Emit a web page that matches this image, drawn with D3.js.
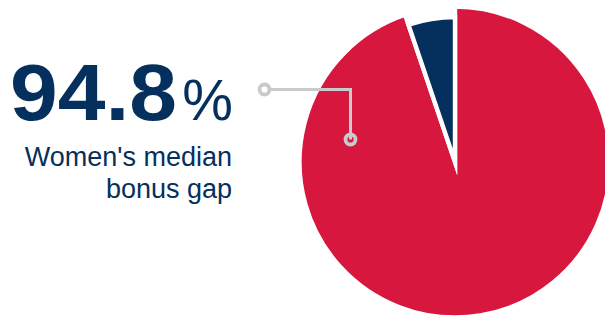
<!DOCTYPE html>
<html>
<head>
<meta charset="utf-8">
<script src="https://cdn.jsdelivr.net/npm/d3@7"></script>
<style>
  html, body { margin: 0; padding: 0; background: #ffffff; }
  svg { display: block; }
</style>
</head>
<body>
<svg id="chart" width="605" height="320"></svg>
<script>
// Bonus gap split: women's median gap vs. remainder of the whole
const categories = ["Women's median bonus gap", "Remainder"];
const values = [94.8, 5.2];
const sliceColors = ["#d7173d", "#05305e"];
const labelLines = ["Women's median", "bonus gap"];
const unit = "%";

const svg = d3.select("#chart");
const navy = "#05305e";
const grey = "#c8cacc";

// Pie
const cx = 455, cy = 162;
const radii = [155.5, 145];

const pie = d3.pie().sort(null).value(d => d.value);
const slices = pie(categories.map((c, i) => ({ name: c, value: values[i], i })));

const arc = d3.arc()
  .innerRadius(0)
  .outerRadius(d => radii[d.data.i]);

svg.append("g")
  .attr("transform", `translate(${cx},${cy})`)
  .selectAll("path")
  .data(slices)
  .join("path")
  .attr("d", arc)
  .attr("fill", d => sliceColors[d.data.i])
  .attr("stroke", "#ffffff")
  .attr("stroke-width", 4.4)
  .attr("stroke-linejoin", "miter")
  .attr("stroke-miterlimit", 10);

// Leader line from the headline figure into the main slice
const leader = svg.append("g")
  .attr("fill", "none")
  .attr("stroke", grey);

const p0 = [264.5, 89.5], p1 = [350.5, 89.5], p2 = [350.5, 139.5];
leader.append("path")
  .attr("d", d3.line()([p0, p1, p2]))
  .attr("stroke-width", 3)
  .attr("stroke-linejoin", "miter");

leader.selectAll("circle")
  .data([p0, p2])
  .join("circle")
  .attr("cx", d => d[0])
  .attr("cy", d => d[1])
  .attr("r", 5)
  .attr("stroke-width", 3.8)
  .attr("fill", (d, i) => i === 0 ? "#ffffff" : "none");

// Headline figure
const fmt = d3.format(".1f");
svg.append("text")
  .attr("x", 177)
  .attr("y", 120)
  .attr("text-anchor", "end")
  .attr("font-family", "'Liberation Sans', Arial, sans-serif")
  .attr("font-weight", "bold")
  .attr("font-size", 80)
  .attr("fill", navy)
  .attr("textLength", 167)
  .attr("lengthAdjust", "spacingAndGlyphs")
  .text(fmt(values[0]));

svg.append("text")
  .attr("x", 233)
  .attr("y", 120)
  .attr("text-anchor", "end")
  .attr("font-family", "'Liberation Sans', Arial, sans-serif")
  .attr("font-size", 57)
  .attr("fill", navy)
  .text(unit);

// Caption
svg.append("g")
  .selectAll("text")
  .data(labelLines)
  .join("text")
  .attr("x", 232)
  .attr("y", (d, i) => 166 + i * 32)
  .attr("text-anchor", "end")
  .attr("font-family", "'Liberation Sans', Arial, sans-serif")
  .attr("font-size", 27)
  .attr("fill", navy)
  .text(d => d);
</script>
</body>
</html>
